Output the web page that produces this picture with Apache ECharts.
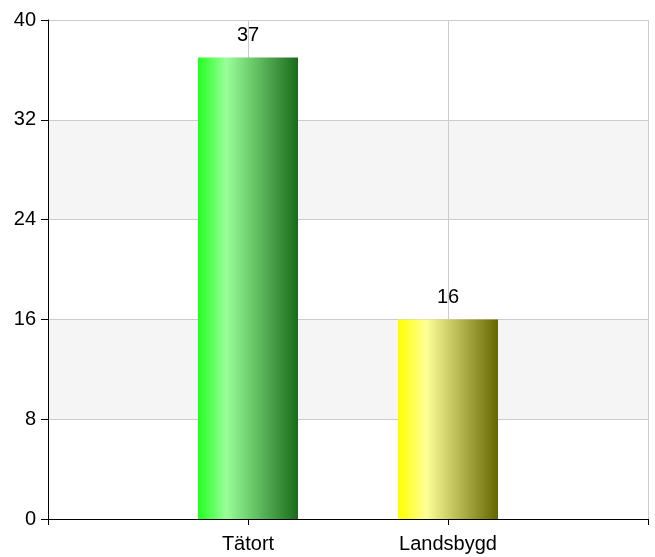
<!DOCTYPE html>
<html>
<head>
<meta charset="utf-8">
<script src="https://cdn.jsdelivr.net/npm/echarts@6/dist/echarts.min.js"></script>
<style>
  html, body { margin: 0; padding: 0; background: #fff; }
  #chart { width: 655px; height: 557px; }
</style>
</head>
<body>
<div id="chart"></div>
<script>
// axis slots: empty ends so the bars sit on the inner grid lines
var categories = ['', 'Tätort', 'Landsbygd', ''];
var values = [null, 37, 16, null];
var yTicks = [0, 8, 16, 24, 32, 40];

// gradient stops per bar (left, light, right)
var barColors = [
  null,
  ['#22ff22', '#99ff99', '#1a6b1a'],
  ['#ffff00', '#ffff99', '#666600'],
  null
];

function grad(c) {
  return new echarts.graphic.LinearGradient(0, 0, 1, 0, [
    { offset: 0, color: c[0] },
    { offset: 0.28, color: c[1] },
    { offset: 1, color: c[2] }
  ]);
}

var seriesData = values.map(function (v, i) {
  if (v === null) return null;
  return { value: v, itemStyle: { color: grad(barColors[i]) } };
});

var chart = echarts.init(document.getElementById('chart'));
chart.setOption({
  animation: false,
  textStyle: { fontFamily: 'Liberation Sans, Arial, sans-serif' },
  grid: { left: 48, right: 7, top: 20, bottom: 38, containLabel: false },
  xAxis: {
    type: 'category',
    data: categories,
    boundaryGap: false,
    axisLine: { lineStyle: { color: '#000', width: 1 } },
    axisTick: { show: true, length: 6, lineStyle: { color: '#000' } },
    axisLabel: { color: '#000', fontSize: 20, margin: 15 },
    splitLine: { show: true, lineStyle: { color: '#cccccc' } }
  },
  yAxis: {
    type: 'value',
    min: yTicks[0],
    max: yTicks[yTicks.length - 1],
    interval: 8,
    axisLine: { show: true, lineStyle: { color: '#000', width: 1 } },
    axisTick: { show: true, length: 7, lineStyle: { color: '#000' } },
    axisLabel: { color: '#000', fontSize: 20, margin: 12 },
    splitLine: { show: true, lineStyle: { color: '#cccccc' } },
    splitArea: { show: true, areaStyle: { color: ['#ffffff', '#f5f5f5'] } }
  },
  series: [{
    type: 'bar',
    data: seriesData,
    barWidth: 100,
    label: {
      show: true,
      position: 'top',
      distance: 12,
      color: '#000',
      fontSize: 20
    }
  }]
});
</script>
</body>
</html>
